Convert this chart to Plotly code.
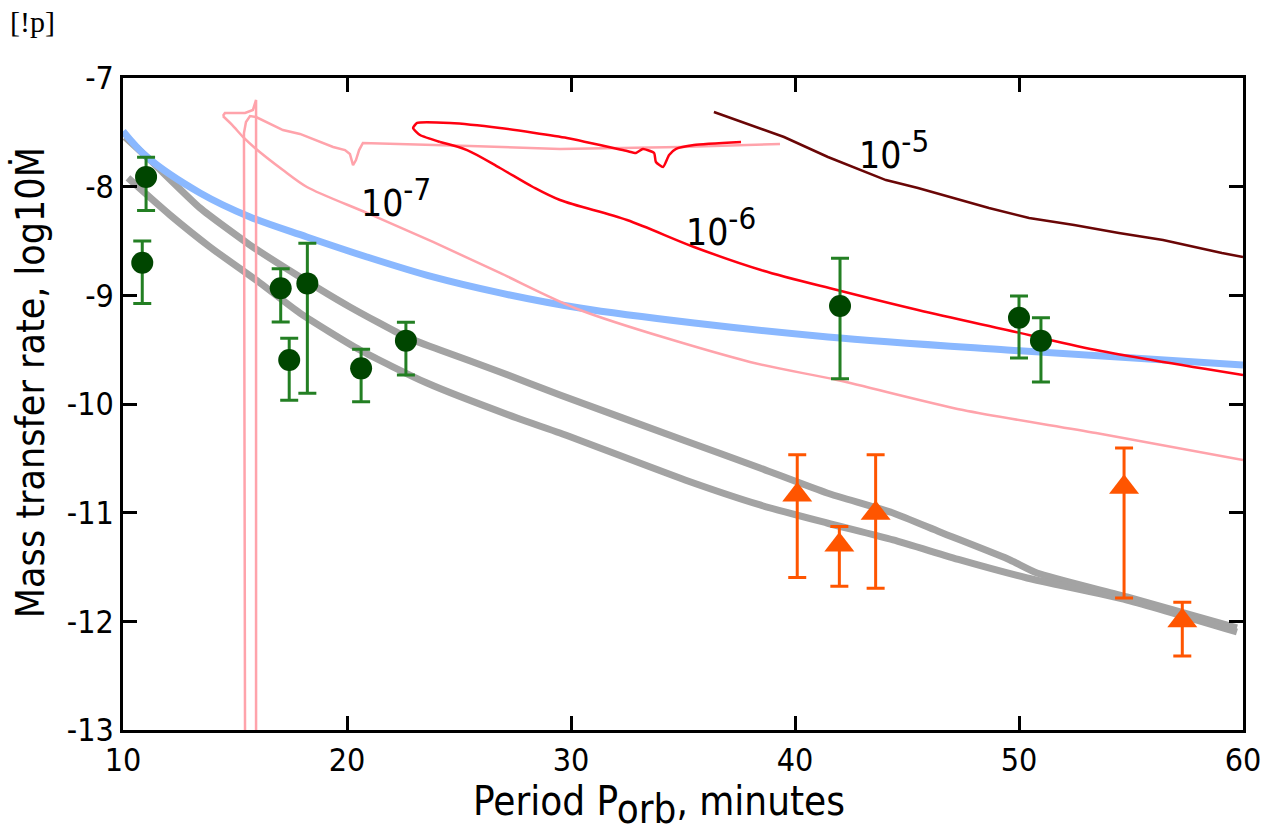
import plotly.graph_objects as go

# ---------------- data ----------------
# observed systems (green circles)
obs_p = [11.03, 10.86, 17.04, 17.42, 18.23, 20.63, 22.63, 42.01, 50.00, 50.98]
obs_m = [-7.91, -8.70, -8.935, -9.595, -8.89, -9.672, -9.417, -9.098, -9.206, -9.417]
obs_hi = [0.18, 0.20, 0.18, 0.20, 0.37, 0.175, 0.17, 0.44, 0.20, 0.21]
obs_lo = [0.31, 0.375, 0.31, 0.37, 1.01, 0.307, 0.316, 0.67, 0.37, 0.38]

# second group (orange triangles)
tri_p = [40.10, 41.98, 43.60, 54.69, 57.29]
tri_m = [-10.837, -11.297, -11.006, -10.766, -11.994]
tri_hi = [0.37, 0.17, 0.54, 0.36, 0.17]
tri_lo = [0.76, 0.38, 0.69, 1.02, 0.325]

# blue model curve
blue_p = [10.0, 11.07, 13.44, 15.67, 18.21, 20.89, 23.84, 26.83, 30.40, 35.5, 41.47, 49.46, 60.0]
blue_m = [-7.49, -7.727, -8.058, -8.279, -8.463, -8.647, -8.831, -8.978, -9.117, -9.255, -9.383, -9.503, -9.641]

# gray model curves
gray1_p = [10.09, 11.21, 13.44, 15.67, 17.90, 20.13, 22.63, 24.15, 26.83, 29.51, 35.0, 38.44, 41.43,
           44.38, 46.47, 49.60, 50.80, 54.82, 59.73]
gray1_m = [-7.543, -7.755, -8.196, -8.537, -8.831, -9.107, -9.383, -9.503, -9.705, -9.917, -10.331,
           -10.589, -10.819, -11.003, -11.178, -11.435, -11.555, -11.776, -12.061]
gray2_p = [10.22, 12.10, 13.88, 16.12, 17.90, 20.58, 23.57, 27.59, 29.51, 35.09, 38.44, 41.43, 44.38,
           47.37, 50.36, 54.82, 59.73]
gray2_m = [-7.920, -8.261, -8.555, -8.886, -9.163, -9.503, -9.807, -10.129, -10.267, -10.699, -10.929,
           -11.095, -11.251, -11.435, -11.601, -11.804, -12.098]

# 1e-7 tracks (pink): vertical rise + hook, descending branch, second track
pink1a_p = [15.94, 15.94, 15.80, 15.45, 14.91, 14.55, 14.46]
pink1a_m = [-13.3, -7.202, -7.294, -7.322, -7.322, -7.322, -7.350]
pink1b_p = [14.46, 14.87, 15.40, 15.89, 17.14, 18.21, 20.89, 23.84, 26.83, 30.40, 37.99, 41.88,
            47.50, 53.44, 60.0]
pink1b_m = [-7.350, -7.432, -7.552, -7.644, -7.847, -8.003, -8.242, -8.509, -8.794, -9.135, -9.613,
            -9.779, -10.055, -10.267, -10.515]
pink2_p = [15.45, 15.40, 15.40, 15.49, 15.67, 15.94, 17.14, 17.90, 19.38, 19.91, 20.13, 20.27, 20.40,
           20.54, 20.71, 25.49, 29.51, 34.87, 39.33]
pink2_m = [-13.3, -7.571, -7.506, -7.405, -7.350, -7.359, -7.479, -7.515, -7.635, -7.663, -7.699, -7.801,
           -7.755, -7.663, -7.598, -7.626, -7.653, -7.635, -7.607]

# 1e-6 track (red): loop part and descending branch
red1_p = [37.59, 35.49, 34.69, 34.38, 34.11, 33.79, 33.71, 33.21, 32.90, 32.50, 29.82, 26.83, 24.60, 23.13,
          22.95, 23.26, 24.15]
red1_m = [-7.589, -7.617, -7.653, -7.709, -7.819, -7.773, -7.690, -7.653, -7.690, -7.672, -7.552, -7.460,
          -7.414, -7.414, -7.460, -7.525, -7.589]
red2_p = [24.15, 25.36, 26.83, 28.30, 29.51, 32.50, 35.49, 38.48, 41.88, 45.49, 49.46, 53.44, 60.0]
red2_m = [-7.589, -7.663, -7.828, -8.003, -8.123, -8.307, -8.555, -8.767, -8.951, -9.135, -9.319, -9.503,
          -9.733]

# 1e-5 track (dark red)
dred_p = [36.38, 39.51, 41.47, 44.06, 45.49, 48.66, 50.45, 52.46, 54.46, 56.43, 59.06, 60.0]
dred_m = [-7.313, -7.543, -7.727, -7.939, -8.012, -8.196, -8.288, -8.353, -8.426, -8.491, -8.610, -8.647]

# curve labels
lab_base = ["10", "10", "10"]
lab_exp = ["-7", "-6", "-5"]
lab_p = [20.55, 35.05, 42.75]
lab_m = [-8.10, -8.37, -7.66]

x_ticks = [10, 20, 30, 40, 50, 60]
y_ticks = [-13, -12, -11, -10, -9, -8, -7]

FONT = "DejaVu Sans Condensed, DejaVu Sans, sans-serif"

fig = go.Figure()

def line(px, py, color, width, shape="linear", smoothing=1.0):
    fig.add_trace(go.Scatter(x=px, y=py, mode="lines",
                             line=dict(color=color, width=width, shape=shape,
                                       smoothing=smoothing if shape == "spline" else None),
                             hoverinfo="skip", showlegend=False))

GRAY = "#a3a3a3"
PINK = "#ffa3ab"
line(gray1_p, gray1_m, GRAY, 7, "spline", 0.5)
line(gray2_p, gray2_m, GRAY, 7, "spline", 0.6)
line(blue_p, blue_m, "#8ab8ff", 7, "spline")
line(pink1a_p, pink1a_m, PINK, 2.5)
line(pink1b_p, pink1b_m, PINK, 2.5, "spline", 0.8)
line(pink2_p, pink2_m, PINK, 2.5)
line(red1_p, red1_m, "#ff0010", 2.5, "spline", 0.5)
line(red2_p, red2_m, "#ff0010", 2.5, "spline", 0.9)
line(dred_p, dred_m, "#6a0606", 2.5)

fig.add_trace(go.Scatter(
    x=obs_p, y=obs_m, mode="markers",
    marker=dict(color="#004600", size=22, symbol="circle"),
    error_y=dict(type="data", symmetric=False, array=obs_hi, arrayminus=obs_lo,
                 color="#237f23", thickness=3, width=9),
    showlegend=False))

fig.add_trace(go.Scatter(
    x=tri_p, y=tri_m, mode="markers",
    marker=dict(color="#ff5500", size=26, symbol="triangle-up"),
    error_y=dict(type="data", symmetric=False, array=tri_hi, arrayminus=tri_lo,
                 color="#ff5500", thickness=3, width=9),
    showlegend=False))

for b, e, px, py in zip(lab_base, lab_exp, lab_p, lab_m):
    fig.add_annotation(x=px, y=py, text=f"{b}<sup><span style='font-size:31px'>{e}</span></sup>",
                       showarrow=False, xanchor="left", yanchor="middle",
                       font=dict(family=FONT, size=37, color="black"))

# axis titles and corner text
fig.add_annotation(xref="paper", yref="paper", x=0.479, y=-0.115,
                   text="Period P<sub><span style='font-size:40px'>orb</span></sub>, minutes",
                   showarrow=False, xanchor="center", yanchor="middle",
                   font=dict(family=FONT, size=40, color="black"))
fig.add_annotation(xref="paper", yref="paper", x=-0.083, y=0.532,
                   text="Mass transfer rate, log10Ṁ", showarrow=False, textangle=-90,
                   xanchor="center", yanchor="middle", font=dict(family=FONT, size=39, color="black"))
fig.add_annotation(xref="paper", yref="paper", x=-0.1027, y=1.086,
                   text="[!p]", showarrow=False, xanchor="left", yanchor="middle",
                   font=dict(family="Liberation Serif, serif", size=30, color="black"))

axis_common = dict(showgrid=False, zeroline=False, showline=True, linecolor="black", linewidth=2.5,
                   mirror="allticks", ticks="inside", ticklen=14, tickwidth=2.5, tickcolor="black",
                   tickfont=dict(family=FONT, size=32, color="black"))
fig.update_xaxes(range=[10, 60], tickvals=x_ticks, ticktext=[str(v) for v in x_ticks], **axis_common)
fig.update_yaxes(range=[-13, -7], tickvals=y_ticks, ticktext=[str(v) for v in y_ticks], **axis_common)

fig.update_layout(width=1276, height=836, plot_bgcolor="white", paper_bgcolor="white",
                  margin=dict(l=123, r=33, t=78, b=106), showlegend=False,
                  font=dict(family=FONT))

fig.write_html("out.html")
